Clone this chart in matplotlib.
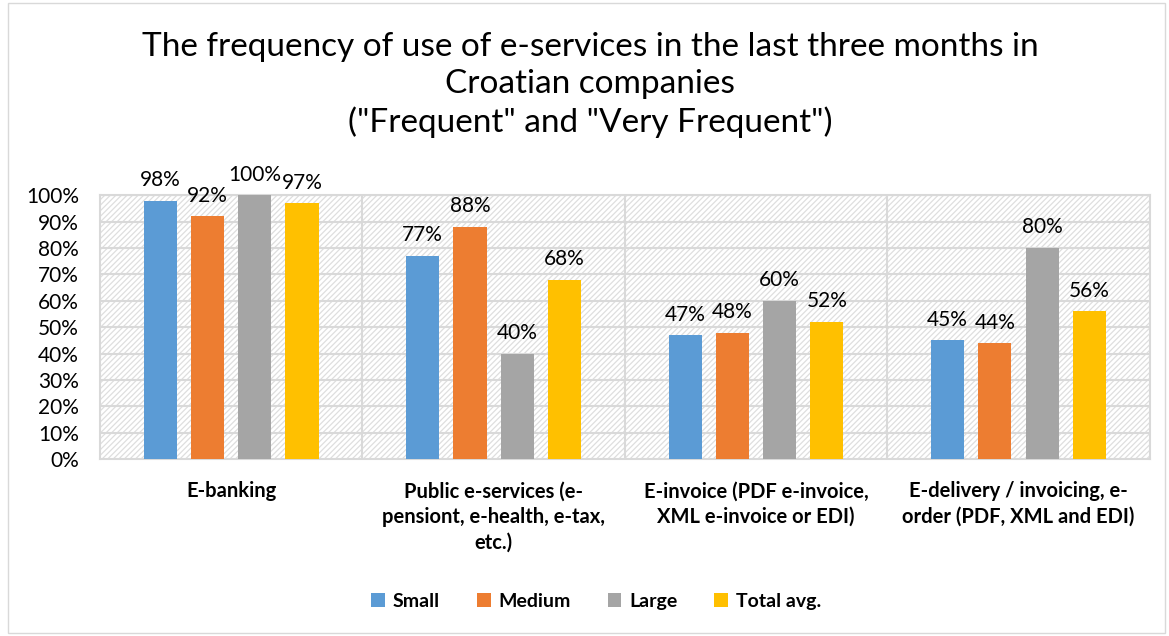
import matplotlib.pyplot as plt
import numpy as np
from matplotlib.patches import Rectangle

categories = ["E-banking",
              "Public e-services (e-\npensiont, e-health, e-tax,\netc.)",
              "E-invoice (PDF e-invoice,\nXML e-invoice or EDI)",
              "E-delivery / invoicing, e-\norder (PDF, XML and EDI)"]
series_names = ["Small", "Medium", "Large", "Total avg."]
small = [98, 77, 47, 45]
medium = [92, 88, 48, 44]
large = [100, 40, 60, 80]
total = [97, 68, 52, 56]
colors = ["#5b9bd5", "#ed7d31", "#a5a5a5", "#ffc000"]

plt.rcParams['font.family'] = ['Lato', 'DejaVu Sans']
plt.rcParams['hatch.linewidth'] = 0.9

fig = plt.figure(figsize=(11.69, 6.36), dpi=100)
ax = fig.add_axes([0.0855, 0.278, 0.898, 0.415])

# chart border
fig.patches.append(Rectangle((0.007, 0.005), 0.99, 0.99, transform=fig.transFigure,
                             fill=False, edgecolor="#d9d9d9", linewidth=1))

x = np.arange(len(categories))
w = 0.126
offsets = [-0.27, -0.09, 0.09, 0.27]
for vals, name, col, off in zip([small, medium, large, total], series_names, colors, offsets):
    bars = ax.bar(x + off, vals, w, color=col, label=name, zorder=3)
    for b, v in zip(bars, vals):
        ax.text(b.get_x() + b.get_width() / 2, v + 4, f"{v}%", ha="center", va="bottom",
                fontsize=15, zorder=4)

ax.set_xlim(-0.5, len(categories) - 0.5)
ax.set_ylim(0, 100)
ax.set_yticks(np.arange(0, 101, 10))
ax.set_yticklabels([f"{t}%" for t in range(0, 101, 10)], fontsize=15)
ax.set_xticks(x)
ax.set_xticklabels(categories, fontsize=14.5, fontweight="bold", va="top", linespacing=1.35)
ax.tick_params(axis="both", length=0)
ax.tick_params(axis="x", pad=16)
ax.tick_params(axis="y", pad=15)

# hatched plot area
bg = Rectangle((0, 0), 1, 1, transform=ax.transAxes, facecolor="white",
               edgecolor="#dedede", linewidth=0, hatch="//////", zorder=0)
ax.add_patch(bg)
for y in range(10, 101, 10):
    ax.axhline(y, color="#d9d9d9", linewidth=1.5, zorder=1)
for xv in [0.5, 1.5, 2.5]:
    ax.axvline(xv, color="#d9d9d9", linewidth=1.5, zorder=1)
for s in ax.spines.values():
    s.set_color("#d9d9d9")
    s.set_linewidth(1.5)

fig.text(0.505, 0.95, "The frequency of use of e-services in the last three months in\nCroatian companies\n(\"Frequent\" and \"Very Frequent\")",
         ha="center", va="top", fontsize=24, linespacing=1.3)

ax.legend(loc="center", bbox_to_anchor=(0.51, 0.055), bbox_transform=fig.transFigure,
          ncol=4, frameon=False, prop={"weight": "bold", "size": 14},
          handlelength=0.7, handleheight=0.7, handletextpad=0.4, columnspacing=1.9)

fig.savefig("out.png", dpi=100)
